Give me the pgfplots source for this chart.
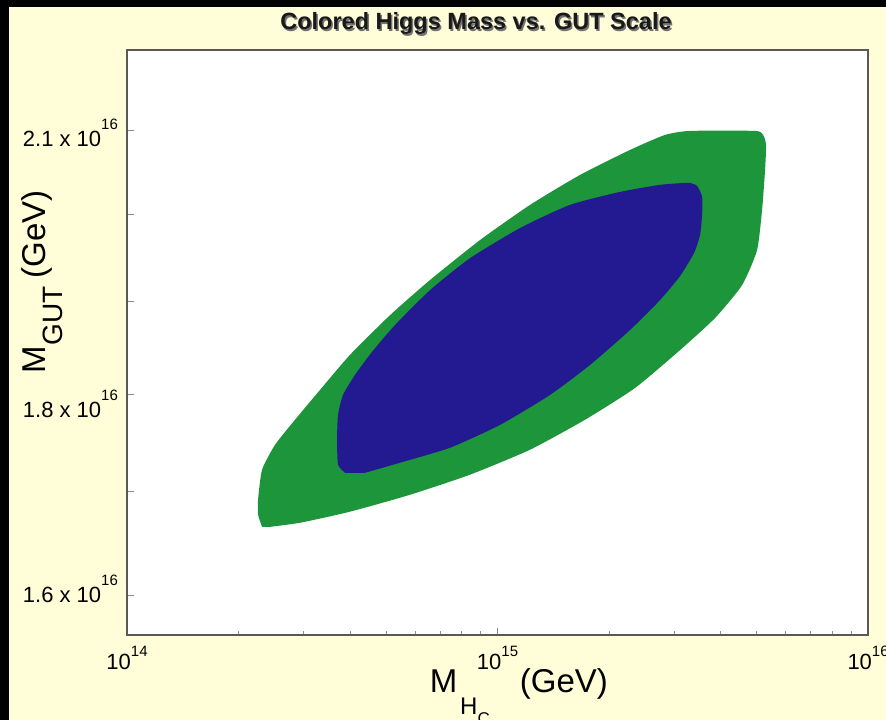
\documentclass[border=0pt]{standalone}
\usepackage{pgfplots}
\pgfplotsset{compat=1.18}
\usepackage{fontspec}
\setmainfont{Liberation Sans}
\definecolor{cream}{RGB}{255,254,216}
\definecolor{ggreen}{RGB}{29,149,58}
\definecolor{gblue}{RGB}{35,25,145}
\newcommand{\xl}[1]{10\raisebox{13pt}{\fontsize{15}{15}\selectfont #1}}
\newcommand{\yl}[2]{\raisebox{#2}{#1 x 10\raisebox{17pt}{\fontsize{15}{15}\selectfont 16}}}
\begin{document}
\begin{tikzpicture}
\fill[cream] (0pt,0pt) rectangle (886pt,720pt);
\fill[black] (0pt,0pt) rectangle (9pt,720pt);
\fill[black] (0pt,713pt) rectangle (886pt,720pt);
\node[anchor=base, text=black!55, font=\fontsize{23.5}{23.5}\selectfont\bfseries] at (477.5pt,688.5pt) {Colored Higgs Mass vs. GUT Scale};
\node[anchor=base, text=black!90, font=\fontsize{23.5}{23.5}\selectfont\bfseries] at (476pt,690pt) {Colored Higgs Mass vs. GUT Scale};
\begin{axis}[
  at={(127pt,85pt)}, anchor=south west,
  scale only axis, width=741pt, height=585pt,
  xmode=log, ymode=log,
  xmin=1e14, xmax=1e16, ymin=1.5634, ymax=2.2019,
  axis background/.style={fill=white},
  axis line style={draw=black!65, line width=1.5pt},
  tick align=inside, tick pos=left,
  major tick length=7pt, minor tick length=4pt,
  tick style={draw=black!45, line width=1pt},
  xtick={1e14,1e15,1e16},
  xticklabels={\xl{14},\xl{15},\xl{16}},
  minor xtick={2e14,3e14,4e14,5e14,6e14,7e14,8e14,9e14,2e15,3e15,4e15,5e15,6e15,7e15,8e15,9e15},
  ytick={1.6,1.7,1.8,1.9,2.0,2.1},
  yticklabels={\yl{1.6}{-7pt},{},\yl{1.8}{-23pt},{},{},\yl{2.1}{-16pt}},
  xticklabel style={anchor=base, yshift=-35pt, font=\fontsize{22}{22}\selectfont},
  yticklabel style={anchor=base east, inner sep=0pt, xshift=-9pt, font=\fontsize{22}{22}\selectfont},
  xlabel={M\kern3pt\raisebox{-22pt}{\fontsize{24}{24}\selectfont H\raisebox{-10pt}{\fontsize{17}{17}\selectfont C}}\hspace{30pt}(GeV)},
  xlabel style={at={(axis description cs:0.4082,-0.09915)}, anchor=base west, inner sep=0pt, font=\fontsize{33}{33}\selectfont},
  ylabel={M\kern1pt\raisebox{-17pt}{\fontsize{28}{28}\selectfont GUT}\hspace{8pt}(GeV)},
  ylabel style={at={(axis description cs:-0.11066,0.4462)}, anchor=base west, inner sep=0pt, font=\fontsize{33}{33}\selectfont},
]
\addplot[fill=ggreen, draw=none, smooth, tension=0.35] coordinates {
(2.314e14,1.6657) (2.257e14,1.6775) (2.257e14,1.6922) (2.314e14,1.7222)
(2.509e14,1.7476) (2.841e14,1.7734) (3.318e14,1.8047) (3.999e14,1.8421)
(5.128e14,1.8857) (6.574e14,1.9247) (8.970e14,1.9702) (1.224e15,2.0110)
(1.670e15,2.0466) (2.279e15,2.0768) (2.832e15,2.0951) (3.308e15,2.1)
(4.954e15,2.1) (5.207e15,2.0951) (5.305e15,2.0829) (5.272e15,2.0526)
(5.175e15,2.0051) (5.016e15,1.9587) (4.570e15,1.9190) (3.864e15,1.8823)
(3.109e15,1.8474) (2.350e15,1.8068) (1.723e15,1.7734) (1.224e15,1.7425)
(8.428e14,1.7172) (5.805e14,1.6972) (3.999e14,1.6804) (2.930e14,1.6696)
(2.432e14,1.6657)
};
\addplot[fill=gblue, draw=none, smooth, tension=0.35] coordinates {
(3.876e14,1.7192) (3.711e14,1.7272) (3.688e14,1.7527) (3.711e14,1.7786)
(3.828e14,1.7995) (4.125e14,1.8206) (4.585e14,1.8453) (5.288e14,1.8747)
(6.574e14,1.9134) (8.428e14,1.9496) (1.150e15,1.9841) (1.569e15,2.0110)
(2.141e15,2.0263) (2.745e15,2.0347) (3.267e15,2.0371) (3.455e15,2.0335)
(3.565e15,2.0204) (3.565e15,1.9993) (3.520e15,1.9760) (3.391e15,1.9553)
(3.109e15,1.9292) (2.745e15,1.9023) (2.279e15,1.8692) (1.777e15,1.8313)
(1.386e15,1.7995) (1.016e15,1.7682) (7.444e14,1.7445) (5.455e14,1.7293)
(4.389e14,1.7192)
};
\end{axis}
\pgfresetboundingbox
\path[use as bounding box] (0pt,0pt) rectangle (886pt,720pt);
\end{tikzpicture}
\end{document}
